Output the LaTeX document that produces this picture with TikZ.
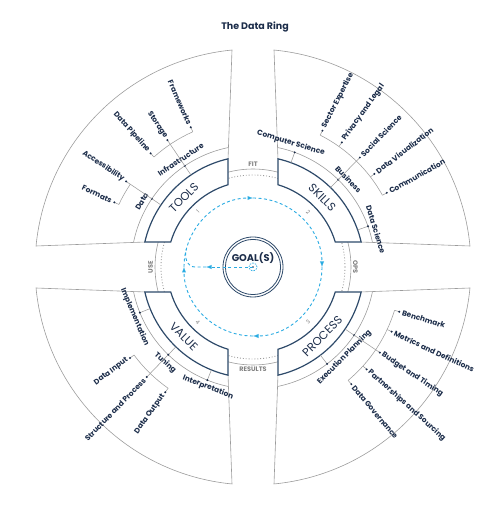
\documentclass[tikz,border=0pt]{standalone}
\usepackage{fontspec}
\setmainfont{Poppins}
\usetikzlibrary{arrows.meta}
\definecolor{navy}{HTML}{1C2D4A}
\definecolor{ringblue}{HTML}{2E4A6A}
\definecolor{linegray}{HTML}{9C9C9C}
\definecolor{cyanline}{HTML}{29ABE2}
\tikzset{>=latex}

\begin{document}
\begin{tikzpicture}[x=1pt,y=1pt,
    sector/.style={draw=linegray,line width=0.6pt},
    block/.style={draw=ringblue,line width=1.2pt,fill=white},
    conn/.style={draw=linegray,line width=0.55pt},
    item/.style={text=navy,font=\bfseries\fontsize{7.4}{8}\selectfont,inner sep=0pt},
    gaplabel/.style={text=gray,font=\bfseries\fontsize{6.5}{7}\selectfont,inner sep=1pt},
    quadlabel/.style={text=navy,font=\fontsize{11.5}{12}\selectfont},
    loopline/.style={draw=cyanline,line width=0.9pt,dash pattern=on 3pt off 2.5pt}]
    \useasboundingbox (0,0) rectangle (491,506);
    \node[text=navy,font=\bfseries\fontsize{9.5}{11}\selectfont] (title) at (255,479) {The Data Ring};

    \begin{scope}[shift={(253,239)}]
        % inner rings
        \draw[linegray,line width=0.6pt] (0,0) circle (98);
        \draw[linegray,line width=0.9pt,dotted] (0,0) circle (92);

        % outer sectors, bands and blocks
        \foreach \q in {0,90,180,270}{
            \draw[sector,rotate=\q] (103:111) -- (95.53:218)
                arc[start angle=95.53,end angle=174.47,radius=218] -- (167:111);
            \draw[sector,rotate=\q] (101.8:122) arc[start angle=101.8,end angle=168.2,radius=122];
            \draw[block,rotate=\q] (106.9:86) arc[start angle=106.9,end angle=163.1,radius=86]
                -- (167:111) arc[start angle=167,end angle=103,radius=111] -- cycle;
        }

        % gap labels
        \node[gaplabel,anchor=south] (fit) at (90:99) {FIT};
        \node[gaplabel,anchor=north] (results) at (270:99) {RESULTS};
        \node[gaplabel,anchor=south,rotate=90] (use) at (180:99) {USE};
        \node[gaplabel,anchor=south,rotate=-90] (ops) at (0:99) {OPS};

        % block labels
        \node[quadlabel,rotate=45] (tools) at (135:98) {TOOLS};
        \node[quadlabel,rotate=-45] (skills) at (45:98) {SKILLS};
        \node[quadlabel,rotate=45] (process) at (-45:98) {PROCESS};
        \node[quadlabel,rotate=-45] (value) at (225:98) {VALUE};

        % goal
        \draw[ringblue,line width=0.8pt] (0,0) circle (30);
        \draw[ringblue,line width=0.8pt] (0,0) circle (27.6);
        \node[text=navy,font=\bfseries\fontsize{9.8}{10}\selectfont] (goal) at (0,9) {GOAL(S)};
        \coordinate (o) at (0,0);
        \draw[loopline,line width=0.7pt,dash pattern=on 1.5pt off 1.2pt] (o) circle (4);
        \fill[navy] (o) circle (0.9);

        % loop
        \coordinate (l0) at (-47,0);
        \draw[loopline,->] (o) -- (l0);
        \draw[loopline] (l0) -- (-58,0) .. controls (-66,0) and (-69,10) .. (165:69);
        \draw[loopline,->] (180:69) arc[start angle=180,end angle=90,radius=69];
        \draw[loopline,->] (90:69) arc[start angle=90,end angle=0,radius=69];
        \draw[loopline,->] (0:69) arc[start angle=0,end angle=-90,radius=69];
        \draw[loopline,->] (-90:69) arc[start angle=-90,end angle=-180,radius=69];
        \foreach \a/\r/\n in {135/45/1,45/-45/2,-45/45/3,225/-45/4}
            \node[text=gray,font=\fontsize{5.5}{6}\selectfont,rotate=\r] (n\n) at (\a:78) {\n};

        % category ticks
        \foreach \a/\n in {146/cdata,124/cinfra,70/ccs,45.7/cbus,19.5/cds,-34/cexec,-52.6/cexecb,202/cimpl,226/ctun,248/cint}{
            \coordinate (\n) at (\a:122);
            \draw[conn] (\a:111) -- (\n);
            \fill[navy] (\n) circle (1.1);
        }

        % category labels
        \node[item,rotate=59] (data) at (149.5:129) {Data};
        \node[item,rotate=34] (infra) at (124:129.5) {Infrastructure};
        \node[item,rotate=-17] (cs) at (73:129.5) {Computer Science};
        \node[item,rotate=-47] (business) at (42.5:129.5) {Business};
        \node[item,rotate=-73] (ds) at (17:128.5) {Data Science};
        \node[item,rotate=45.3] (exec) at (-44.7:128.5) {Execution Planning};
        \node[item,rotate=-67] (impl) at (203:128.5) {Implementation};
        \node[item,rotate=-43] (tuning) at (227.5:130) {Tuning};
        \node[item,rotate=-21] (interp) at (249.5:128.5) {Interpretation};

        % branches
        \draw[conn] (cdata) -- (146:148);
        \draw[conn] (146:148) arc[start angle=146,end angle=155,radius=148];
        \draw[conn] (cinfra) -- (124:148);
        \draw[conn] (114:148) arc[start angle=114,end angle=132,radius=148];
        \draw[conn] (cbus) -- (45.7:148);
        \draw[conn] (29:148) arc[start angle=29,end angle=63,radius=148];
        \draw[conn] (cexec) -- (-34:148);
        \draw[conn] (-17:148) arc[start angle=-17,end angle=-50,radius=148];
        \draw[conn] (ctun) -- (226:148);
        \draw[conn] (216.5:148) arc[start angle=216.5,end angle=235,radius=148];

        % sub-items, left half
        \foreach \a/\t [count=\i] in {146/Accessibility,155/Formats,114/Frameworks,124/Storage,132/Data Pipeline,216.5/Data Input,226/Structure and Process,235/Data Output}{
            \coordinate (dl\i) at (\a:153);
            \draw[conn] (\a:148) -- (dl\i);
            \fill[navy] (dl\i) circle (1.1);
            \node[item,anchor=east,rotate=\a-180] (tl\i) at (\a:156) {\t};
        }
        % sub-items, right half
        \foreach \a/\t [count=\i] in {63/Sector Expertise,54.5/Privacy and Legal,45.7/Social Science,37.5/Data Visualization,29/Communication,-17/Benchmark,-25/Metrics and Definitions,-34/Budget and Timing,-42/Partnerships and Sourcing,-50/Data Governance}{
            \coordinate (dr\i) at (\a:153);
            \draw[conn] (\a:148) -- (dr\i);
            \fill[navy] (dr\i) circle (1.1);
            \node[item,anchor=west,rotate=\a] (tr\i) at (\a:156) {\t};
        }
    \end{scope}
\end{tikzpicture}
\end{document}
